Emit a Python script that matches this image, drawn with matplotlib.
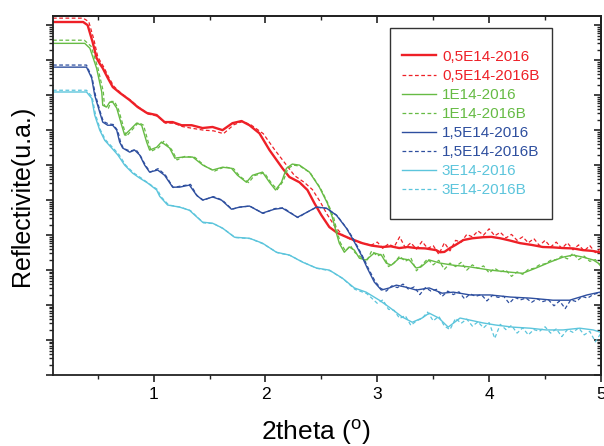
import numpy as np
import matplotlib.pyplot as plt
from matplotlib.ticker import MultipleLocator, LogLocator, NullFormatter
from matplotlib.patches import Rectangle

plt.rcParams['font.family'] = ['Liberation Sans', 'DejaVu Sans']

# 2theta (deg) and log10 of reflectivity (arb. units)
red_x = [0.10, 0.37, 0.41, 0.455, 0.49, 0.52, 0.545, 0.59, 0.635, 0.70, 0.785, 0.857, 0.94, 1.027, 1.098,
         1.17, 1.25, 1.34, 1.437, 1.527, 1.616, 1.705, 1.786, 1.857, 1.946, 2.036, 2.152, 2.214, 2.304,
         2.375, 2.438, 2.50, 2.571, 2.643, 2.75, 2.866, 2.95, 3.045, 3.12, 3.196, 3.27, 3.348, 3.43,
         3.527, 3.56, 3.60, 3.65, 3.70, 3.77, 3.85, 3.946, 4.02, 4.098, 4.18, 4.277, 4.38, 4.48, 4.57,
         4.66, 4.75, 4.84, 4.92, 4.99]
red_logR = [10.09, 10.09, 10.0, 9.51, 9.06, 8.89, 8.77, 8.49, 8.23, 8.06, 7.86, 7.66, 7.49, 7.43, 7.23,
            7.23, 7.14, 7.14, 7.06, 7.09, 7.0, 7.2, 7.26, 7.14, 6.91, 6.43, 5.91, 5.66, 5.51,
            5.29, 4.91, 4.57, 4.23, 4.06, 3.91, 3.77, 3.70, 3.66, 3.68, 3.63, 3.66, 3.63, 3.62,
            3.57, 3.51, 3.52, 3.63, 3.72, 3.86, 3.91, 3.94, 3.95, 3.91, 3.85, 3.77, 3.72, 3.66, 3.65,
            3.63, 3.62, 3.57, 3.55, 3.51]

red_b_x = [0.10, 0.37, 0.42, 0.465, 0.50, 0.53, 0.555, 0.60, 0.645, 0.71, 0.795, 0.865, 0.95, 1.035, 1.105,
           1.18, 1.26, 1.35, 1.445, 1.535, 1.625, 1.715, 1.795, 1.87, 1.98, 2.08, 2.20, 2.26, 2.35, 2.42,
           2.49, 2.55, 2.62, 2.69, 2.78, 2.88,
           2.95, 3.00, 3.05, 3.10, 3.15, 3.20, 3.25, 3.30, 3.35, 3.40, 3.45, 3.50, 3.55, 3.60, 3.65,
           3.70, 3.75, 3.80, 3.85, 3.90, 3.95, 4.00, 4.05, 4.10, 4.15, 4.20, 4.25, 4.30, 4.35, 4.40,
           4.45, 4.50, 4.55, 4.60, 4.65, 4.70, 4.75, 4.80, 4.85, 4.90, 4.95, 5.00]
red_b_logR = [10.2, 10.2, 10.1, 9.6, 9.1, 8.93, 8.8, 8.5, 8.25, 8.05, 7.85, 7.66, 7.46, 7.4, 7.2,
              7.2, 7.1, 7.05, 7.0, 6.98, 6.9, 7.15, 7.25, 7.15, 6.9, 6.45, 5.95, 5.7, 5.5, 5.3,
              4.95, 4.6, 4.25, 4.0, 3.85, 3.75,
              3.72, 3.80, 3.62, 3.75, 3.66, 3.95, 3.64, 3.78, 3.60, 3.82, 3.62, 3.70, 3.45, 3.78, 3.55,
              3.85, 3.80, 4.02, 3.95, 4.12, 4.00, 4.18, 3.98, 4.08, 3.92, 4.02, 3.85, 3.95, 3.78, 3.90,
              3.70, 3.85, 3.66, 3.80, 3.62, 3.78, 3.58, 3.72, 3.55, 3.70, 3.50, 3.62]

green_x = [0.10, 0.384, 0.43, 0.49, 0.536, 0.545, 0.58, 0.607, 0.634, 0.67, 0.714, 0.741, 0.786, 0.848,
           0.893, 0.9375, 0.964, 1.027, 1.07, 1.143, 1.19, 1.26, 1.35, 1.44, 1.527, 1.616, 1.696, 1.75,
           1.83, 1.884, 1.973, 2.036, 2.09, 2.143, 2.1875, 2.24, 2.304, 2.393, 2.482, 2.554, 2.598, 2.634,
           2.66, 2.705, 2.75, 2.795, 2.84, 2.90, 2.973, 3.036, 3.08, 3.125, 3.196, 3.286, 3.348, 3.39,
           3.464, 3.5625, 3.68, 3.83, 4.01, 4.19, 4.30, 4.42, 4.545, 4.66, 4.75, 4.84, 4.93, 5.0]
green_logR = [9.48, 9.48, 9.34, 8.77, 8.09, 7.71, 7.66, 7.8, 7.8, 7.63, 7.14, 6.86, 7.0, 7.2,
              7.14, 6.66, 6.43, 6.51, 6.66, 6.49, 6.2, 6.23, 6.23, 6.0, 5.86, 5.94, 5.91, 5.71,
              5.51, 5.71, 5.8, 5.51, 5.29, 5.51, 5.91, 6.03, 6.0, 5.8, 5.37, 4.91, 4.51, 4.06,
              3.77, 3.51, 3.66, 3.57, 3.34, 3.29, 3.49, 3.43, 3.2, 3.14, 3.34, 3.29, 3.06, 3.09,
              3.29, 3.2, 3.14, 3.09, 3.0, 2.94, 2.91, 3.06, 3.23, 3.37, 3.43, 3.37, 3.29, 3.15]

green_b_x = [0.10, 0.38, 0.44, 0.50, 0.55, 0.56, 0.595, 0.62, 0.65, 0.685, 0.73, 0.755, 0.80, 0.865, 0.91,
             0.955, 0.98, 1.045, 1.09, 1.16, 1.21, 1.28, 1.37, 1.46, 1.545, 1.635, 1.715, 1.77, 1.85, 1.90,
             1.99, 2.05, 2.105, 2.16, 2.20, 2.25, 2.31, 2.40, 2.49, 2.56, 2.61, 2.645, 2.67, 2.715,
             2.76, 2.80, 2.85, 2.90, 2.95, 3.00, 3.05, 3.10, 3.15, 3.20, 3.25, 3.30, 3.35, 3.40, 3.45,
             3.50, 3.55, 3.60, 3.65, 3.70, 3.75, 3.80, 3.85, 3.90, 3.95, 4.00, 4.05, 4.10, 4.15, 4.20,
             4.25, 4.30, 4.35, 4.40, 4.45, 4.50, 4.55, 4.60, 4.65, 4.70, 4.75, 4.80, 4.85, 4.90, 4.95, 5.00]
green_b_logR = [9.57, 9.57, 9.4, 8.8, 8.1, 7.7, 7.62, 7.82, 7.82, 7.6, 7.1, 6.82, 6.98, 7.22, 7.14,
                6.62, 6.4, 6.5, 6.68, 6.45, 6.15, 6.25, 6.22, 5.97, 5.83, 5.95, 5.9, 5.68, 5.5, 5.7,
                5.78, 5.5, 5.3, 5.55, 5.9, 6.0, 5.97, 5.78, 5.35, 4.9, 4.5, 4.05, 3.78, 3.55,
                3.70, 3.50, 3.38, 3.22, 3.55, 3.40, 3.48, 3.10, 3.20, 3.40, 3.25, 3.35, 2.98, 3.15, 3.32,
                3.15, 3.28, 3.02, 3.20, 3.10, 3.22, 3.00, 3.15, 3.05, 3.12, 2.92, 3.05, 2.95, 3.00, 2.82,
                2.95, 2.88, 3.02, 3.05, 3.15, 3.18, 3.28, 3.30, 3.40, 3.32, 3.48, 3.30, 3.40, 3.25, 3.30, 3.10]

blue_x = [0.10, 0.40, 0.446, 0.473, 0.518, 0.545, 0.589, 0.634, 0.67, 0.696, 0.723, 0.786, 0.83, 0.875,
          0.92, 0.964, 1.036, 1.098, 1.17, 1.232, 1.32, 1.384, 1.4375, 1.527, 1.607, 1.696, 1.768, 1.857,
          1.973, 2.08, 2.152, 2.286, 2.375, 2.455, 2.545, 2.634, 2.723, 2.777, 2.857, 2.91, 2.973, 3.036,
          3.107, 3.17, 3.26, 3.348, 3.464, 3.58, 3.68, 3.83, 4.01, 4.19, 4.366, 4.57, 4.72, 4.875, 4.99]
blue_logR = [8.8, 8.8, 8.49, 8.0, 7.51, 7.23, 7.14, 7.14, 7.0, 6.66, 6.49, 6.37, 6.43, 6.29,
             6.0, 5.8, 5.86, 5.71, 5.37, 5.37, 5.43, 5.14, 5.0, 5.09, 5.0, 4.74, 4.8, 4.83,
             4.63, 4.74, 4.77, 4.51, 4.66, 4.8, 4.77, 4.57, 4.2, 3.91, 3.43, 3.06, 2.66, 2.43,
             2.49, 2.57, 2.51, 2.43, 2.49, 2.34, 2.37, 2.29, 2.29, 2.23, 2.2, 2.14, 2.14, 2.29, 2.37]

blue_b_x = [0.10, 0.40, 0.45, 0.48, 0.525, 0.55, 0.595, 0.64, 0.68, 0.705, 0.73, 0.79, 0.84, 0.88, 0.93,
            0.97, 1.04, 1.105, 1.175, 1.24, 1.33, 1.39, 1.445, 1.535, 1.615, 1.70, 1.775, 1.86, 1.98,
            2.085, 2.16, 2.29, 2.38, 2.46, 2.55, 2.64, 2.73, 2.785, 2.865, 2.92, 2.98,
            3.03, 3.08, 3.13, 3.18, 3.23, 3.28, 3.33, 3.38, 3.43, 3.48, 3.53, 3.58, 3.63, 3.68, 3.73,
            3.78, 3.83, 3.88, 3.93, 3.98, 4.03, 4.08, 4.13, 4.18, 4.23, 4.28, 4.33, 4.38, 4.43, 4.48,
            4.53, 4.58, 4.63, 4.68, 4.73, 4.78, 4.83, 4.88, 4.93, 4.98, 5.00]
blue_b_logR = [8.86, 8.86, 8.5, 8.0, 7.5, 7.25, 7.18, 7.16, 6.98, 6.65, 6.48, 6.4, 6.45, 6.28, 5.98,
               5.8, 5.9, 5.72, 5.36, 5.4, 5.45, 5.12, 5.0, 5.1, 5.0, 4.74, 4.8, 4.83, 4.62,
               4.76, 4.78, 4.5, 4.67, 4.8, 4.76, 4.56, 4.18, 3.9, 3.42, 3.05, 2.68,
               2.48, 2.40, 2.55, 2.50, 2.60, 2.45, 2.52, 2.30, 2.50, 2.40, 2.45, 2.25, 2.40, 2.30, 2.38,
               2.18, 2.32, 2.25, 2.30, 2.12, 2.28, 2.22, 2.25, 2.05, 2.22, 2.15, 2.20, 2.08, 2.18, 2.10,
               2.15, 1.98, 2.12, 1.90, 2.15, 2.10, 2.25, 2.20, 2.30, 2.35, 2.30]

cyan_x = [0.10, 0.40, 0.446, 0.473, 0.518, 0.5625, 0.625, 0.68, 0.741, 0.8125, 0.875, 0.946, 1.027, 1.054,
          1.125, 1.232, 1.32, 1.4375, 1.527, 1.616, 1.723, 1.857, 1.973, 2.098, 2.214, 2.33, 2.455, 2.571,
          2.6875, 2.795, 2.90, 3.018, 3.107, 3.223, 3.3125, 3.40, 3.464, 3.55, 3.634, 3.74, 3.83, 3.946,
          4.06, 4.214, 4.366, 4.51, 4.66, 4.81, 4.93, 4.99]
cyan_logR = [8.09, 8.09, 7.91, 7.43, 7.0, 6.71, 6.49, 6.29, 6.0, 5.77, 5.63, 5.49, 5.29, 5.11,
             4.86, 4.8, 4.71, 4.37, 4.34, 4.2, 3.94, 3.91, 3.77, 3.51, 3.43, 3.23, 3.06, 3.0,
             2.77, 2.49, 2.37, 2.14, 1.94, 1.66, 1.51, 1.63, 1.77, 1.63, 1.37, 1.63, 1.57, 1.49,
             1.43, 1.37, 1.34, 1.29, 1.29, 1.34, 1.29, 1.23]

cyan_b_x = [0.10, 0.40, 0.45, 0.48, 0.525, 0.57, 0.635, 0.69, 0.75, 0.82, 0.885, 0.955, 1.035, 1.065, 1.135,
            1.24, 1.33, 1.445, 1.535, 1.625, 1.73, 1.865, 1.98, 2.105, 2.22, 2.34, 2.46, 2.58, 2.695, 2.80,
            2.905,
            2.95, 3.00, 3.05, 3.10, 3.15, 3.20, 3.25, 3.30, 3.35, 3.40, 3.45, 3.50, 3.55, 3.60, 3.65,
            3.70, 3.75, 3.80, 3.85, 3.90, 3.95, 4.00, 4.05, 4.10, 4.15, 4.20, 4.25, 4.30, 4.35, 4.40,
            4.45, 4.50, 4.55, 4.60, 4.65, 4.70, 4.75, 4.80, 4.85, 4.90, 4.95, 5.00]
cyan_b_logR = [8.14, 8.14, 7.95, 7.45, 7.0, 6.72, 6.5, 6.3, 6.0, 5.78, 5.64, 5.48, 5.3, 5.1, 4.86,
               4.8, 4.7, 4.35, 4.33, 4.18, 3.93, 3.9, 3.75, 3.5, 3.42, 3.22, 3.05, 2.98, 2.75, 2.45,
               2.33,
               2.20, 2.05, 2.15, 1.88, 1.85, 1.62, 1.70, 1.42, 1.55, 1.62, 1.80, 1.55, 1.68, 1.40, 1.30,
               1.62, 1.48, 1.60, 1.40, 1.52, 1.35, 1.50, 1.05, 1.45, 1.30, 1.42, 1.20, 1.35, 1.15, 1.30,
               1.25, 1.38, 1.20, 1.32, 1.10, 1.30, 1.22, 1.35, 1.15, 1.25, 0.95, 1.20]

red, green, blue, cyan = '#ee2027', '#66bb44', '#2e4f9f', '#5cc5dc'
dash = (0, (3, 2))

series = [
    ('0,5E14-2016', red_x, red_logR, red, '-', 1.7),
    ('0,5E14-2016B', red_b_x, red_b_logR, red, dash, 0.9),
    ('1E14-2016', green_x, green_logR, green, '-', 1.0),
    ('1E14-2016B', green_b_x, green_b_logR, green, dash, 0.9),
    ('1,5E14-2016', blue_x, blue_logR, blue, '-', 1.0),
    ('1,5E14-2016B', blue_b_x, blue_b_logR, blue, dash, 0.9),
    ('3E14-2016', cyan_x, cyan_logR, cyan, '-', 1.0),
    ('3E14-2016B', cyan_b_x, cyan_b_logR, cyan, dash, 0.9),
]

fig = plt.figure(figsize=(6.04, 4.46), dpi=100)
ax = fig.add_axes([0.0877, 0.159, 0.9073, 0.805])

for label, x, logr, c, ls, lw in series:
    ax.plot(x, 10 ** np.array(logr), color=c, ls=ls, lw=lw, label=label)

ax.set_yscale('log')
ax.set_xlim(0.1, 5)
ax.set_ylim(1, 10 ** 10.26)

ax.xaxis.set_major_locator(MultipleLocator(1))
ax.xaxis.set_minor_locator(MultipleLocator(0.5))
ax.yaxis.set_major_locator(LogLocator(base=10, numticks=15))
ax.yaxis.set_minor_locator(LogLocator(base=10, subs=np.arange(2, 10), numticks=15))
ax.yaxis.set_major_formatter(NullFormatter())
ax.yaxis.set_minor_formatter(NullFormatter())

ax.tick_params(which='major', direction='out', length=5, width=1.2, labelsize=12.5, color='#222')
ax.tick_params(which='minor', direction='out', length=3, width=1.0, color='#222')
ax.tick_params(axis='x', pad=3.5)
for s in ax.spines.values():
    s.set_linewidth(1.3)
    s.set_color('#222')

# top and right axes: ticks pointing inwards, no labels
top = ax.secondary_xaxis('top')
top.xaxis.set_major_locator(MultipleLocator(1))
top.xaxis.set_minor_locator(MultipleLocator(0.5))
top.tick_params(which='major', direction='in', length=5, width=1.2, labeltop=False, color='#222')
top.tick_params(which='minor', direction='in', length=3, width=1.0, color='#222')
top.spines['top'].set_linewidth(1.3)
top.spines['top'].set_color('#222')

right = ax.secondary_yaxis('right')
right.yaxis.set_major_locator(LogLocator(base=10, numticks=15))
right.yaxis.set_minor_locator(LogLocator(base=10, subs=np.arange(2, 10), numticks=15))
right.yaxis.set_major_formatter(NullFormatter())
right.yaxis.set_minor_formatter(NullFormatter())
right.tick_params(which='major', direction='in', length=5, width=1.2, color='#222')
right.tick_params(which='minor', direction='in', length=3, width=1.0, color='#222')
right.spines['right'].set_linewidth(1.3)
right.spines['right'].set_color('#222')

ax.set_xlabel('2theta ($\\mathregular{^o}$)', fontsize=19)
ax.xaxis.set_label_coords(0.48, -0.12)
ax.set_ylabel('Reflectivite(u.a.)', fontsize=18)
ax.yaxis.set_label_coords(-0.035, 0.5)

leg = ax.legend(loc='upper left', bbox_to_anchor=(0.615, 0.94), frameon=False, fontsize=11,
                labelcolor='linecolor', handlelength=2.2, handletextpad=0.4,
                labelspacing=0.33, borderpad=0.8, borderaxespad=0)

# legend box with extra room above and below the entries
fig.canvas.draw()
bb = leg.get_window_extent().transformed(fig.transFigure.inverted())
vpad = 10 / 446
fig.add_artist(Rectangle((bb.x0, bb.y0 - vpad), bb.width, bb.height + 2 * vpad,
                         transform=fig.transFigure, fill=False, lw=1.0, ec='#333'))

fig.savefig('out.png', dpi=100)
